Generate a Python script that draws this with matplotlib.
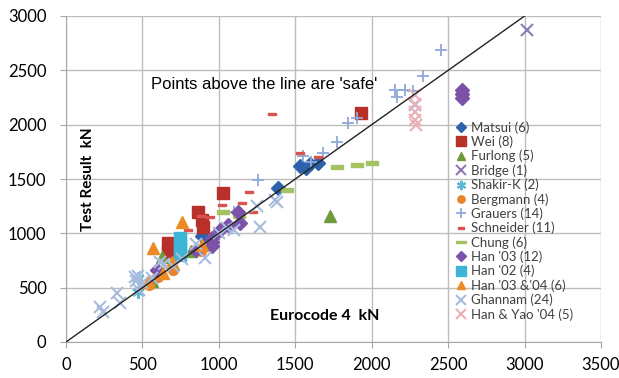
import numpy as np
import matplotlib.pyplot as plt

# ==========================================
# data (kN)
# ==========================================
matsui_x = [1530, 1596, 1648, 1387, 890, 1570]
matsui_y = [1620, 1637, 1647, 1417, 975, 1600]

wei_x = [1929, 1027, 863, 889, 896, 667, 667, 700]
wei_y = [2107, 1371, 1196, 1122, 1058, 911, 828, 870]

furlong_x = [1730, 630, 560, 820, 700]
furlong_y = [1160, 780, 560, 840, 720]

bridge_x = [3015]
bridge_y = [2870]

shakir_x = [471, 471]
shakir_y = [590, 460]

bergmann_x = [540, 600, 700, 880]
bergmann_y = [520, 600, 660, 840]

grauers_x = [2453, 2335, 2152, 2165, 2217, 2270, 1844, 1903, 1772, 1550, 1681, 1256, 1100, 1600]
grauers_y = [2686, 2447, 2318, 2254, 2318, 2309, 2015, 2060, 1840, 1711, 1738, 1490, 1200, 1660]

schneider_x = [1347, 1530, 1197, 1020, 1151, 1223, 942, 880, 800, 1450, 1650]
schneider_y = [2097, 1738, 1380, 1260, 1279, 1196, 1150, 1160, 1030, 1400, 1700]

chung_x = [1772, 1903, 2001, 1445, 1027, 1130]
chung_y = [1610, 1628, 1647, 1398, 1196, 1160]

han03_x = [2590, 2590, 2590, 1125, 1138, 1007, 955, 955, 595, 955, 1060, 850]
han03_y = [2320, 2285, 2250, 1196, 1095, 1030, 957, 883, 662, 920, 1080, 850]

han02_x = [745, 745, 745, 745]
han02_y = [960, 910, 860, 800]

han0304_x = [759, 569, 693, 634, 536, 889]
han0304_y = [1104, 865, 736, 635, 552, 892]

ghannam_x = [222, 240, 333, 350, 451, 460, 470, 480, 500, 615, 640, 700, 760, 909,
             1269, 1367, 1380, 1000, 1050, 1100, 850, 560, 2285, 1250]
ghannam_y = [322, 280, 450, 360, 598, 560, 610, 480, 540, 736, 720, 700, 760, 773,
             1058, 1306, 1288, 1000, 1050, 1030, 900, 590, 2180, 1250]

hanyao_x = [2283, 2283, 2283, 2283, 2290]
hanyao_y = [2272, 2190, 2116, 2045, 2000]

x_ticks = [0, 500, 1000, 1500, 2000, 2500, 3000, 3500]
y_ticks = [0, 500, 1000, 1500, 2000, 2500, 3000]

# short bar marker for Schneider / Chung
bar = [(-1, -0.3), (1, -0.3), (1, 0.3), (-1, 0.3), (-1, -0.3)]

series = [
    ('Matsui (6)', matsui_x, matsui_y, dict(marker='D', color='#2B62AB', ms=7)),
    ('Wei (8)', wei_x, wei_y, dict(marker='s', color='#B8302A', ms=9)),
    ('Furlong (5)', furlong_x, furlong_y, dict(marker='^', color='#6E9A3C', ms=8)),
    ('Bridge (1)', bridge_x, bridge_y, dict(marker='x', color='#8E7BB5', ms=9, mew=1.5)),
    ('Shakir-K (2)', shakir_x, shakir_y, dict(marker=(6, 2, 0), color='#5BB8CF', ms=9, mew=1.5)),
    ('Bergmann (4)', bergmann_x, bergmann_y, dict(marker='o', color='#E8822E', ms=7)),
    ('Grauers (14)', grauers_x, grauers_y, dict(marker='+', color='#8EA8D8', ms=9, mew=1.3)),
    ('Schneider (11)', schneider_x, schneider_y, dict(marker=bar, color='#D9534F', ms=6)),
    ('Chung (6)', chung_x, chung_y, dict(marker=bar, color='#A5C262', ms=9)),
    ("Han '03 (12)", han03_x, han03_y, dict(marker='D', color='#7B52A8', ms=7)),
    ("Han '02 (4)", han02_x, han02_y, dict(marker='s', color='#3DB5D6', ms=9)),
    ("Han '03 &'04 (6)", han0304_x, han0304_y, dict(marker='^', color='#EE8A25', ms=8)),
    ('Ghannam (24)', ghannam_x, ghannam_y, dict(marker='x', color='#A9BCDE', ms=9, mew=1.5)),
    ("Han & Yao '04 (5)", hanyao_x, hanyao_y, dict(marker='x', color='#EBB0B8', ms=9, mew=1.5)),
]

plt.rcParams['font.family'] = ['Lato', 'DejaVu Sans']

fig = plt.figure(figsize=(6.19, 3.78), dpi=100)
ax = fig.add_axes([66 / 619, 1 - 342 / 378, 535 / 619, 326 / 378])

for label, xs, ys, st in series:
    ax.plot(xs, ys, linestyle='none', label=label, zorder=3, **st)

# 1:1 line
ax.plot([0, 3000], [0, 3000], color='#222222', lw=1, zorder=4)

ax.set_xlim(0, 3500)
ax.set_ylim(0, 3000)
ax.set_xticks(x_ticks)
ax.set_yticks(y_ticks)
ax.grid(True, color='#BDBDBD', lw=1)
ax.set_axisbelow(True)
for s in ['top', 'right']:
    ax.spines[s].set_visible(False)
for s in ['left', 'bottom']:
    ax.spines[s].set_color('#A6A6A6')
ax.tick_params(axis='both', colors='#A6A6A6', labelcolor='black', labelsize=12, length=4)
ax.tick_params(axis='y', pad=10)
ax.tick_params(axis='x', pad=7)

ax.text(144, 1500, 'Test Result  kN', rotation=90, ha='center', va='center',
        fontsize=11, fontweight='bold')
ax.text(1694, 240, 'Eurocode 4  kN', ha='center', va='center',
        fontsize=11.5, fontweight='bold')
ax.text(1295, 2370, "Points above the line are 'safe'", ha='center', va='center',
        fontsize=12, family=['Liberation Sans', 'DejaVu Sans'])

leg = ax.legend(loc='upper left', bbox_to_anchor=(455 / 619, 1 - 121 / 378),
                bbox_transform=fig.transFigure, frameon=False, fontsize=9.5,
                handlelength=0.9, handletextpad=0.3, labelspacing=0.14,
                borderpad=0, borderaxespad=0, numpoints=1, markerscale=0.75)
for t in leg.get_texts():
    t.set_color('#404040')

plt.savefig('out.png', dpi=100)
